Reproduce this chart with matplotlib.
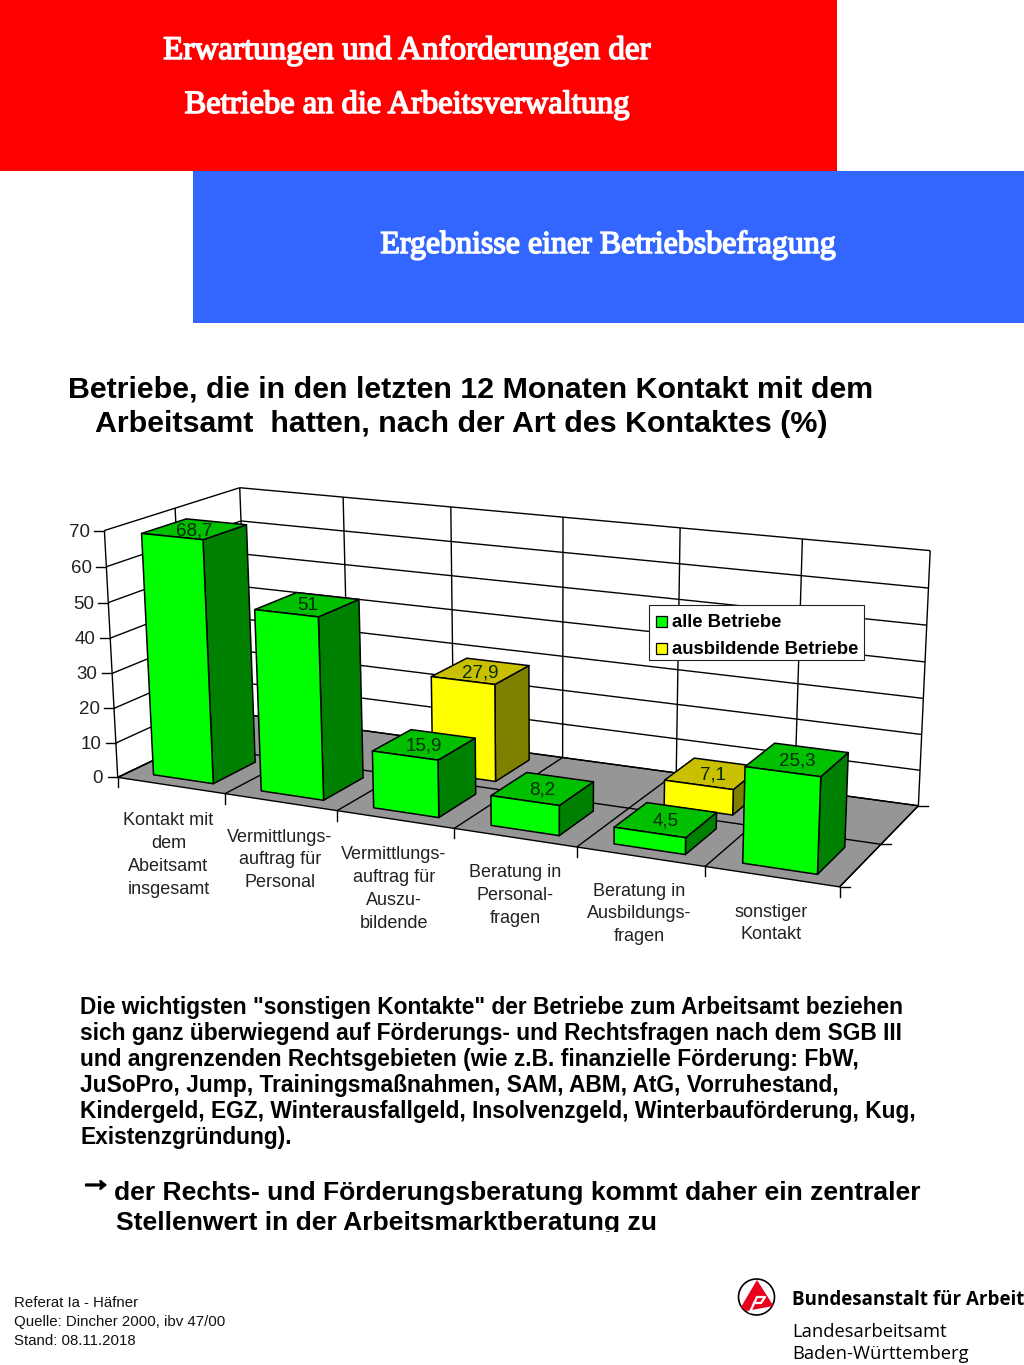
import numpy as np
import matplotlib
matplotlib.use('Agg')
from matplotlib import pyplot as plt
from matplotlib.patches import Polygon, Rectangle, Circle
import matplotlib.patheffects as pe

plt.rcParams['font.family'] = ['Liberation Sans', 'DejaVu Sans']

# data
categories = ["Kontakt mit\ndem\nAbeitsamt\ninsgesamt", "Vermittlungs-\nauftrag für\nPersonal",
              "Vermittlungs-\nauftrag für\nAuszu-\nbildende", "Beratung in\nPersonal-\nfragen",
              "Beratung in\nAusbildungs-\nfragen", "sonstiger\nKontakt"]
alle_betriebe = [68.7, 51, 15.9, 8.2, 4.5, 25.3]
ausbildende_betriebe = [None, None, 27.9, None, 7.1, None]
value_ticks = [0, 10, 20, 30, 40, 50, 60, 70]
series_names = ["alle Betriebe", "ausbildende Betriebe"]

W, H = 1024, 1365
fig = plt.figure(figsize=(W / 100, H / 100), dpi=100)
ax = fig.add_axes([0, 0, 1, 1])
ax.set_xlim(0, W)
ax.set_ylim(H, 0)
ax.axis('off')

# perspective of the chart box: (category, depth, value) -> pixel, fitted on the box corners and ticks
calib = [((0, 0, 0), (117, 777)), ((1, 0, 0), (224, 793)), ((2, 0, 0), (337, 811)), ((3, 0, 0), (454, 828)),
         ((4, 0, 0), (577, 847)), ((5, 0, 0), (705, 867)), ((6, 0, 0), (840, 887)), ((0, 1, 0), (250, 716)),
         ((6, 1, 0), (918, 805)), ((0, 0, 70), (106, 531)), ((0, 1, 70), (238, 487)), ((1, 1, 70), (343, 497)),
         ((2, 1, 70), (451, 507)), ((3, 1, 70), (563, 517)), ((4, 1, 70), (680, 528)), ((5, 1, 70), (803, 539)),
         ((6, 1, 70), (930, 551))]
A, b = [], []
for (cx, cz, cv), (px, py) in calib:
    A.append([cx, cz, cv, 1, 0, 0, 0, 0, -px * cx, -px * cz, -px * cv])
    b.append(px)
    A.append([0, 0, 0, 0, cx, cz, cv, 1, -py * cx, -py * cz, -py * cv])
    b.append(py)
m = np.linalg.lstsq(np.array(A, float), np.array(b, float), rcond=None)[0]


def project(x, z, v):
    w = m[8] * x + m[9] * z + m[10] * v + 1
    return (m[0] * x + m[1] * z + m[2] * v + m[3]) / w, (m[4] * x + m[5] * z + m[6] * v + m[7]) / w


def face(points, color, zorder):
    ax.add_patch(Polygon([project(*p) for p in points], closed=True, facecolor=color, edgecolor='black',
                         linewidth=1.1, joinstyle='round', zorder=zorder))


def line3(p, q, zorder=2):
    a, c = project(*p), project(*q)
    ax.plot([a[0], c[0]], [a[1], c[1]], color='black', lw=1.0, zorder=zorder, solid_capstyle='butt')


def bar(i, z0, z1, value, colors, zorder):
    x0, x1 = i + 0.22, i + 0.78
    face([(x1, z0, 0), (x1, z1, 0), (x1, z1, value), (x1, z0, value)], colors[2], zorder)
    face([(x0, z0, value), (x1, z0, value), (x1, z1, value), (x0, z1, value)], colors[1], zorder)
    face([(x0, z0, 0), (x1, z0, 0), (x1, z0, value), (x0, z0, value)], colors[0], zorder)
    tx, ty = project(i + 0.5, (z0 + z1) / 2, value)
    ax.text(tx, ty + 1.5, f"{value:g}".replace('.', ','), fontsize=13.5, color='#062a06', ha='center', va='center',
            zorder=zorder + 0.01)


# header blocks
ax.add_patch(Rectangle((0, 0), 837, 171, facecolor='#ff0000', edgecolor='none', zorder=1))
ax.add_patch(Rectangle((193, 171), 831, 152, facecolor='#3366ff', edgecolor='none', zorder=1))
thick = [pe.withStroke(linewidth=1.1, foreground='white')]
for tx, ty, s, fs in [(406.5, 59, "Erwartungen und Anforderungen der", 23.8),
                      (407, 113, "Betriebe an die Arbeitsverwaltung", 23.4),
                      (608.5, 253, "Ergebnisse einer Betriebsbefragung", 23)]:
    ax.text(tx, ty, s, color='white', fontsize=fs, family=['Liberation Serif', 'DejaVu Serif'],
            ha='center', va='baseline', zorder=3, path_effects=thick)

# chart heading
ax.text(68, 389, "Betriebe, die in den letzten 12 Monaten Kontakt mit dem", fontsize=21.9, fontweight='bold',
        ha='left', va='center')
ax.text(95, 423.5, "Arbeitsamt  hatten, nach der Art des Kontaktes (%)", fontsize=21.9, fontweight='bold',
        ha='left', va='center')

# floor, walls and grid
ax.add_patch(Polygon([project(0, 0, 0), project(6, 0, 0), project(6, 1, 0), project(0, 1, 0)], closed=True,
                     facecolor='#969696', edgecolor='black', lw=1.0, zorder=1.5))
for v in value_ticks:
    line3((0, 0, v), (0, 1, v))
    line3((0, 1, v), (6, 1, v))
    a = project(0, 0, v)
    ax.plot([a[0] - 10, a[0]], [a[1], a[1]], color='black', lw=1.0, zorder=2)
    ax.text(a[0] - 14.5, a[1] + 1.5, str(v), fontsize=13.5, color='#222222', ha='right', va='center')
line3((0, 0, 0), (0, 0, 70))
line3((0, 0.5, 0), (0, 0.5, 70))
for i in range(7):
    line3((i, 1, 0), (i, 1, 70))
    line3((i, 0, 0), (i, 1, 0))
    a = project(i, 0, 0)
    ax.plot([a[0], a[0]], [a[1], a[1] + 10], color='black', lw=1.0, zorder=2)
line3((0, 0.5, 0), (6, 0.5, 0))
for z in [0, 0.5, 1]:
    a = project(6, z, 0)
    ax.plot([a[0], a[0] + 10], [a[1], a[1]], color='black', lw=1.0, zorder=2)

# bars, back row first
green = ('#00ff00', '#00c000', '#008000')
yellow = ('#ffff00', '#c8c000', '#808000')
for i, v in enumerate(ausbildende_betriebe):
    if v is not None:
        bar(i, 0.59, 0.91, v, yellow, 3 + i * 0.1)
for i, v in enumerate(alle_betriebe):
    bar(i, 0.09, 0.41, v, green, 4 + i * 0.1)

# category labels
label_pos = [(168.5, 855), (280, 860), (394, 889), (515, 895.5), (639.5, 914), (771, 923.5)]
for (lx, ly), s in zip(label_pos, categories):
    ax.text(lx, ly, s, fontsize=13, color='#222222', ha='center', va='center', linespacing=1.46)

# legend
ax.add_patch(Rectangle((649, 605), 215, 55, facecolor='white', edgecolor='#222222', lw=0.8, zorder=6))
for yy, s, c in zip([621.5, 648.5], series_names, [green[0], yellow[0]]):
    ax.add_patch(Rectangle((656, yy - 5.5), 11, 11, facecolor=c, edgecolor='black', lw=0.9, zorder=7))
    ax.text(672, yy + 1, s, fontsize=13.3, fontweight='bold', ha='left', va='center', zorder=7)

# body text
body = ["Die wichtigsten \"sonstigen Kontakte\" der Betriebe zum Arbeitsamt beziehen",
        "sich ganz überwiegend auf Förderungs- und Rechtsfragen nach dem SGB III",
        "und angrenzenden Rechtsgebieten (wie z.B. finanzielle Förderung: FbW,",
        "JuSoPro, Jump, Trainingsmaßnahmen, SAM, ABM, AtG, Vorruhestand,",
        "Kindergeld, EGZ, Winterausfallgeld, Insolvenzgeld, Winterbauförderung, Kug,",
        "Existenzgründung)."]
for k, s in enumerate(body):
    ax.text(80, 1007.5 + k * 26, s, fontsize=16.35, fontweight='bold', ha='left', va='center')

ax.text(79, 1182, "\u2192", fontsize=24, fontweight='bold', family='Liberation Sans', ha='left', va='center',
        path_effects=[pe.withStroke(linewidth=1.3, foreground='black')])
ax.text(114, 1193, "der Rechts- und Förderungsberatung kommt daher ein zentraler", fontsize=19.07, fontweight='bold',
        ha='left', va='center')
ax.text(116, 1223, "Stellenwert in der Arbeitsmarktberatung zu", fontsize=19.07, fontweight='bold', ha='left',
        va='center')
ax.add_patch(Rectangle((100, 1232), 700, 12, facecolor='white', edgecolor='none', zorder=8))

# footer
for k, s in enumerate(["Referat Ia - Häfner", "Quelle: Dincher 2000, ibv 47/00", "Stand: 08.11.2018"]):
    ax.text(14, 1303 + k * 19, s, fontsize=10.85, color='#111111', ha='left', va='center')

# logo
ax.add_patch(Circle((756.5, 1297), 18, facecolor='white', edgecolor='black', lw=1.2, zorder=3))
ax.add_patch(Polygon([(757, 1280), (773.5, 1306), (768, 1307), (746, 1311), (741, 1307)], closed=True,
                     facecolor='#e8001c', edgecolor='none', zorder=4))
ax.plot([750, 757, 765, 761, 754], [1312, 1297, 1297, 1303, 1303], color='white', lw=1.6, zorder=5)
ax.text(792, 1300, "Bundesanstalt für Arbeit", fontsize=13.5, fontweight='bold', family='Open Sans', ha='left',
        va='center')
ax.text(792, 1332, "Landesarbeitsamt", fontsize=13.2, family='Open Sans', ha='left', va='center')
ax.text(792, 1354, "Baden-Württemberg", fontsize=13.2, family='Open Sans', ha='left', va='center')

fig.savefig('out.png', dpi=100)
